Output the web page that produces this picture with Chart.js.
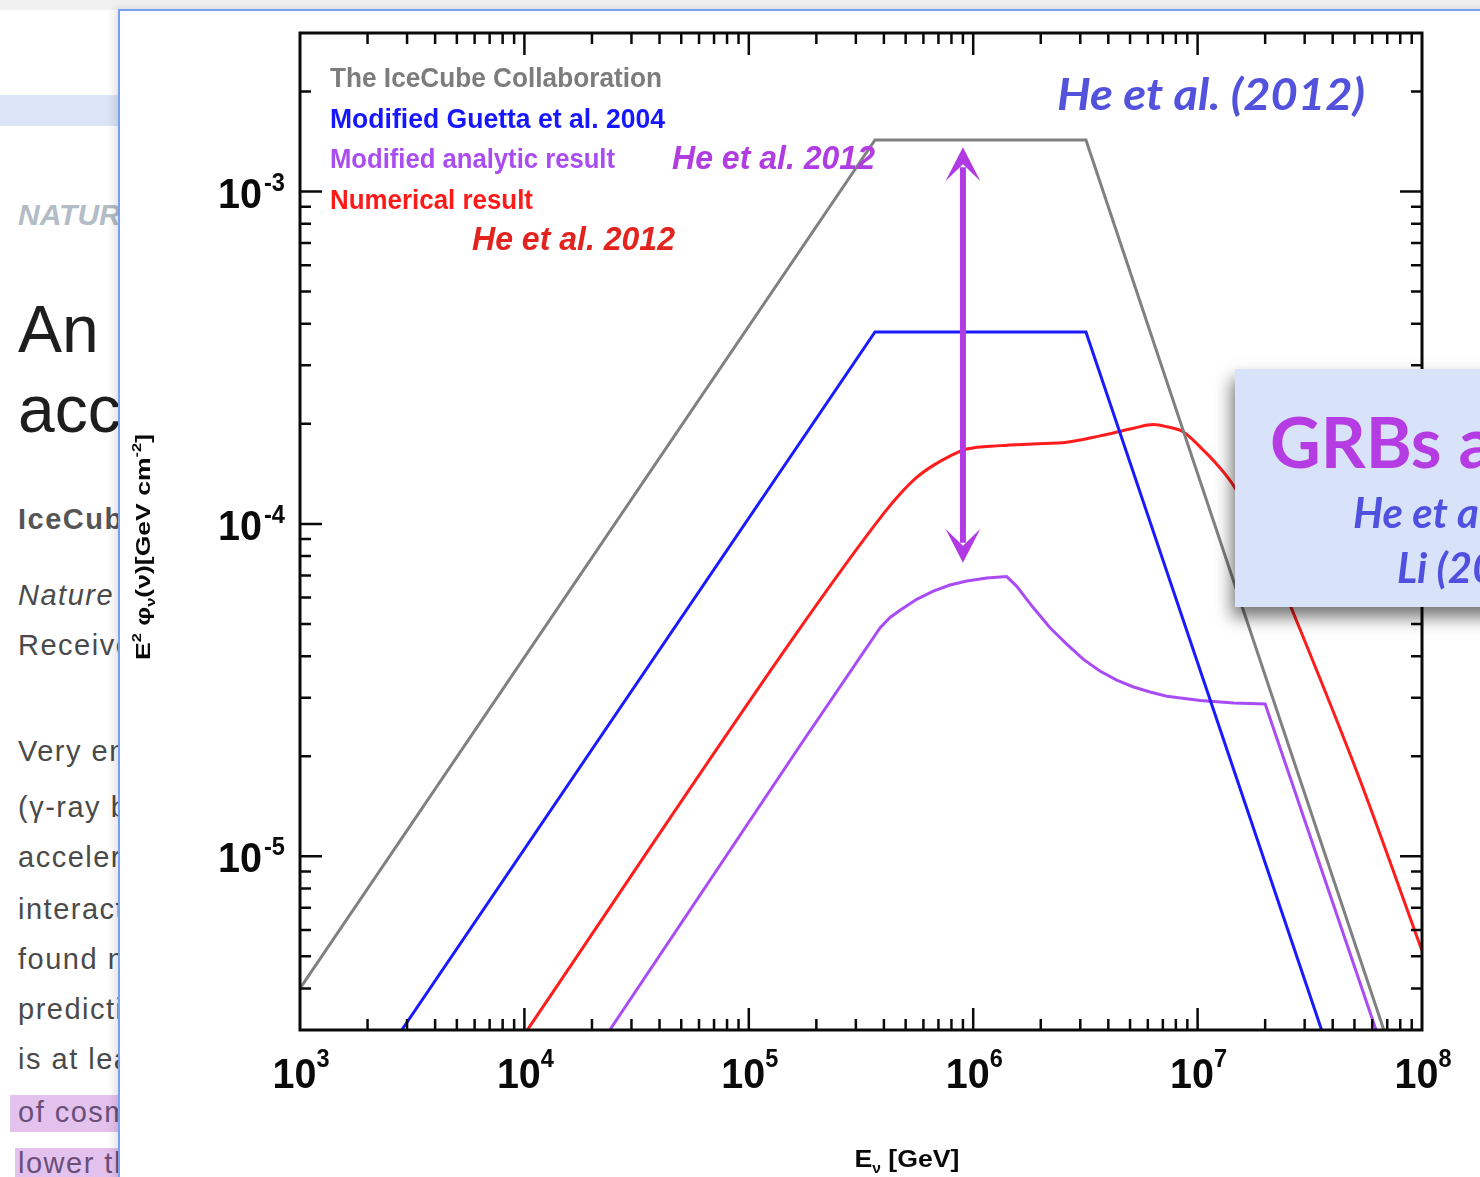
<!DOCTYPE html>
<html>
<head>
<meta charset="utf-8">
<script src="https://cdn.jsdelivr.net/npm/chart.js@4.4.1/dist/chart.umd.min.js"></script>
<style>
  html, body { margin: 0; padding: 0; width: 1480px; height: 1177px; overflow: hidden; background: #fff;
    font-family: "Liberation Sans", Arial, sans-serif; }
  .abs { position: absolute; white-space: nowrap; line-height: 1; }
  #topstrip { left: 0; top: 0; width: 1480px; height: 10px; background: #f1f1f1; }
  #band { left: 0; top: 95px; width: 118px; height: 31px; background: #dbe5f7; }
  .pg { left: 18px; font-size: 29px; color: #4a4a4a; letter-spacing: 1.5px; }
  .hl { background: #e4c2ee; }
  #panel { left: 118px; top: 9px; width: 1400px; height: 1200px; background: #fff;
    border-left: 2px solid #78a0f0; border-top: 2px solid #78a0f0; box-shadow: -3px 0 9px rgba(0,0,0,0.13); }
  #chart { position: absolute; left: 0; top: 0; }
  #callout { left: 1235px; top: 369px; width: 300px; height: 238px; background: #d8e3fa;
    box-shadow: -3px 10px 16px rgba(0,0,0,0.55); overflow: hidden; }
  #callout div { position: absolute; white-space: nowrap; line-height: 1; font-family: Lato, "Open Sans", sans-serif; }
</style>
</head>
<body>
<!-- article page behind the slide -->
<div class="abs" id="topstrip"></div>
<div class="abs" id="band"></div>
<div class="abs" style="left:18px;top:200px;font-size:30px;font-weight:bold;font-style:italic;color:#b4bcc6;">NATURE</div>
<div class="abs" style="left:18px;top:296px;font-size:66px;color:#1e1e1e;">An astrophysical</div>
<div class="abs" style="left:18px;top:376px;font-size:66px;color:#1e1e1e;">accelerators</div>
<div class="abs pg" style="top:505px;font-weight:bold;color:#555;">IceCube Collaboration</div>
<div class="abs pg" style="top:581px;font-style:italic;">Nature</div>
<div class="abs pg" style="top:631px;">Received</div>
<div class="abs pg" style="top:737px;">Very energetic</div>
<div class="abs pg" style="top:793px;">(γ-ray bursts</div>
<div class="abs pg" style="top:843px;">accelerators</div>
<div class="abs pg" style="top:895px;">interactions</div>
<div class="abs pg" style="top:945px;">found no</div>
<div class="abs pg" style="top:995px;">predictions</div>
<div class="abs pg" style="top:1045px;">is at least</div>
<div class="abs hl" style="left:10px;top:1095px;width:110px;height:37px;"></div>
<div class="abs pg" style="top:1098px;color:#6a4f78;">of cosmic</div>
<div class="abs hl" style="left:15px;top:1148px;width:105px;height:40px;"></div>
<div class="abs pg" style="top:1149px;color:#6a4f78;">lower than</div>

<!-- slide panel -->
<div class="abs" id="panel"></div>
<canvas id="chart" width="1480" height="1177"></canvas>
<div class="abs" id="callout">
  <div style="left:35px;top:37px;font-size:70px;font-weight:bold;color:#b53be3;">GRBs are not dead</div>
  <div style="left:118px;top:122px;font-size:42px;font-weight:bold;font-style:italic;color:#5050e0;">He et al. (2012)</div>
  <div style="left:162px;top:177px;font-size:42px;font-weight:bold;font-style:italic;color:#5050e0;">Li (2012)</div>
</div>

<script>
// Neutrino fluence curves: energy in GeV, E^2 phi in GeV cm^-2
const ENERGY_ICECUBE = [1.0e3, 3.65e5, 3.18e6, 6.76e7];
const FLUX_ICECUBE   = [4.0e-6, 1.43e-3, 1.43e-3, 3.0e-6];

const ENERGY_GUETTA = [2.84e3, 3.65e5, 3.18e6, 3.57e7];
const FLUX_GUETTA   = [3.0e-6, 3.78e-4, 3.78e-4, 3.0e-6];

const ENERGY_NUMERICAL = [1.03e4, 1.69e5, 3.97e5, 4.72e5, 5.60e5, 6.64e5, 7.88e5, 9.36e5, 1.32e6, 1.85e6,
                          2.61e6, 3.67e6, 5.18e6, 6.35e6, 7.29e6, 8.65e6, 1.03e7, 1.22e7, 1.45e7, 1.96e7,
                          2.64e7, 5.2e7, 1.0e8];
const FLUX_NUMERICAL   = [3.0e-6, 4.85e-5, 1.07e-4, 1.23e-4, 1.38e-4, 1.50e-4, 1.60e-4, 1.68e-4, 1.72e-4, 1.74e-4,
                          1.76e-4, 1.84e-4, 1.94e-4, 1.99e-4, 1.96e-4, 1.89e-4, 1.70e-4, 1.51e-4, 1.30e-4, 8.9e-5,
                          5.5e-5, 1.75e-5, 5.2e-6];

const ENERGY_ANALYTIC = [2.40e4, 1.69e5, 3.85e5, 4.26e5, 4.72e5, 5.60e5, 6.64e5, 7.88e5, 9.36e5, 1.15e6,
                         1.41e6, 1.56e6, 1.85e6, 2.20e6, 2.61e6, 3.10e6, 3.67e6, 4.36e6, 5.18e6, 6.14e6,
                         7.29e6, 1.03e7, 1.45e7, 2.00e7, 6.24e7];
const FLUX_ANALYTIC   = [3.0e-6, 2.15e-5, 4.87e-5, 5.23e-5, 5.50e-5, 5.93e-5, 6.28e-5, 6.55e-5, 6.73e-5, 6.87e-5,
                         6.94e-5, 6.50e-5, 5.60e-5, 4.87e-5, 4.35e-5, 3.91e-5, 3.61e-5, 3.39e-5, 3.23e-5, 3.12e-5,
                         3.03e-5, 2.94e-5, 2.89e-5, 2.87e-5, 3.0e-6];

// Axis ranges and tick labels
const X_RANGE = [1e3, 1e8];
const Y_RANGE = [3e-6, 3e-3];
const X_DECADES = [1e3, 1e4, 1e5, 1e6, 1e7, 1e8];
const X_EXPONENTS = ['3', '4', '5', '6', '7', '8'];
const Y_DECADES = [1e-5, 1e-4, 1e-3];
const Y_EXPONENTS = ['-5', '-4', '-3'];
const X_MINOR_DECADES = [1e3, 1e4, 1e5, 1e6, 1e7];
const Y_MINOR_DECADES = [1e-6, 1e-5, 1e-4, 1e-3];
const MINOR_STEPS = [2, 3, 4, 5, 6, 7, 8, 9];

// Legend entries and annotations
const LEGEND_LABELS = ['The IceCube Collaboration', 'Modified Guetta et al. 2004', 'Modified analytic result', 'Numerical result'];
const LEGEND_COLORS = ['#7c7c7c', '#1616ff', '#a94cf2', '#ff1a1a'];
const ARROW_ENERGY = 9.0e5;
const ARROW_FLUX = [1.36e-3, 7.64e-5];

function pairs(xs, ys) { return xs.map((x, i) => ({ x: x, y: ys[i] })); }

function fitText(ctx, txt, x, y, width, align) {
  const w = ctx.measureText(txt).width;
  const s = width ? width / w : 1;
  ctx.save();
  ctx.translate(x, y);
  ctx.scale(s, 1);
  ctx.textAlign = 'left';
  const x0 = align === 'center' ? -w / 2 : (align === 'right' ? -w : 0);
  ctx.fillText(txt, x0, 0);
  ctx.restore();
}

// Draws a run of text pieces [text, font, baselineShift] with a common horizontal squeeze
function drawRun(ctx, pieces, x, y, targetWidth, align) {
  let total = 0;
  const widths = pieces.map(p => { ctx.font = p[1]; const w = ctx.measureText(p[0]).width; total += w; return w; });
  const s = targetWidth ? targetWidth / total : 1;
  ctx.save();
  ctx.translate(x, y);
  ctx.scale(s, 1);
  ctx.textAlign = 'left';
  ctx.textBaseline = 'alphabetic';
  let cx = align === 'center' ? -total / 2 : (align === 'right' ? -total : 0);
  pieces.forEach((p, i) => { ctx.font = p[1]; ctx.fillText(p[0], cx, p[2]); cx += widths[i]; });
  ctx.restore();
}

const figurePlugin = {
  id: 'figure',
  afterDatasetsDraw(chart) {
    const ctx = chart.ctx;
    const a = chart.chartArea;
    const xs = chart.scales.x, ys = chart.scales.y;
    ctx.save();

    // frame
    ctx.strokeStyle = '#0a0a0a';
    ctx.lineWidth = 3;
    ctx.strokeRect(a.left, a.top, a.right - a.left, a.bottom - a.top);

    // ticks on all four sides, pointing inward
    ctx.lineWidth = 2.5;
    ctx.beginPath();
    const xTick = (v, len) => {
      const px = xs.getPixelForValue(v);
      ctx.moveTo(px, a.bottom); ctx.lineTo(px, a.bottom - len);
      ctx.moveTo(px, a.top); ctx.lineTo(px, a.top + len);
    };
    const yTick = (v, len) => {
      const py = ys.getPixelForValue(v);
      ctx.moveTo(a.left, py); ctx.lineTo(a.left + len, py);
      ctx.moveTo(a.right, py); ctx.lineTo(a.right - len, py);
    };
    X_MINOR_DECADES.forEach(d => MINOR_STEPS.forEach(m => xTick(d * m, 11)));
    X_DECADES.forEach(v => { if (v > X_RANGE[0] && v < X_RANGE[1]) xTick(v, 22); });
    Y_MINOR_DECADES.forEach(d => MINOR_STEPS.forEach(m => {
      const v = d * m;
      if (v > Y_RANGE[0] * 1.001 && v < Y_RANGE[1] * 0.999) yTick(v, 11);
    }));
    Y_DECADES.forEach(v => yTick(v, 22));
    ctx.stroke();

    // tick labels: 10 with raised exponent
    ctx.fillStyle = '#0a0a0a';
    ctx.textBaseline = 'alphabetic';
    const big = 'bold 42px "Liberation Sans", Arial, sans-serif';
    const small = 'bold 25px "Liberation Sans", Arial, sans-serif';
    X_DECADES.forEach((v, i) => {
      const px = xs.getPixelForValue(v);
      drawRun(ctx, [['10', big, 0], [X_EXPONENTS[i], small, -21]], px + 1, a.bottom + 58, 57, 'center');
    });
    Y_DECADES.forEach((v, i) => {
      const py = ys.getPixelForValue(v);
      ctx.font = big;
      fitText(ctx, '10', a.left - 38, py + 16, 44, 'right');
      ctx.font = small;
      fitText(ctx, Y_EXPONENTS[i], a.left - 36, py - 1, 21, 'left');
    });

    // axis titles
    const tf = 'bold 24px "Liberation Sans", Arial, sans-serif';
    const ts = 'bold 14px "Liberation Sans", Arial, sans-serif';
    drawRun(ctx, [['E', tf, 0], ['ν', ts, 6], [' [GeV]', tf, 0]], 907, a.bottom + 137, 105, 'center');
    ctx.save();
    ctx.translate(150, 547);
    ctx.rotate(-Math.PI / 2);
    const yf = 'bold 21px "Liberation Sans", Arial, sans-serif';
    const yfs = 'bold 13px "Liberation Sans", Arial, sans-serif';
    drawRun(ctx, [['E', yf, 0], ['2', yfs, -9], [' φ', yf, 0], ['ν', yfs, 5], ['(ν)[GeV cm', yf, 0], ['-2', yfs, -9], [']', yf, 0]],
      0, 0, 226, 'center');
    ctx.restore();

    // legend text
    const legendWidths = [332, 335, 285, 203];
    ctx.font = 'bold 28px "Liberation Sans", Arial, sans-serif';
    LEGEND_LABELS.forEach((t, i) => {
      ctx.fillStyle = LEGEND_COLORS[i];
      fitText(ctx, t, a.left + 30, a.top + 54 + i * 40.5, legendWidths[i], 'left');
    });

    // reference labels
    ctx.font = 'italic bold 33px "Liberation Sans", Arial, sans-serif';
    ctx.fillStyle = '#b03ce2';
    fitText(ctx, 'He et al. 2012', 672, 169, 203, 'left');
    ctx.fillStyle = '#e3231e';
    fitText(ctx, 'He et al. 2012', 472, 250, 203, 'left');
    ctx.font = 'italic bold 43px Lato, "Open Sans", sans-serif';
    ctx.fillStyle = '#5252dc';
    fitText(ctx, 'He et al. (2012)', 1057, 110, 308, 'left');

    // double-headed arrow between the two peaks
    const ax = xs.getPixelForValue(ARROW_ENERGY);
    const yTop = ys.getPixelForValue(ARROW_FLUX[0]);
    const yBot = ys.getPixelForValue(ARROW_FLUX[1]);
    ctx.fillStyle = '#b23ae4';
    ctx.strokeStyle = '#b23ae4';
    ctx.lineWidth = 6;
    ctx.beginPath();
    ctx.moveTo(ax, yTop + 20);
    ctx.lineTo(ax, yBot - 20);
    ctx.stroke();
    const head = (tipY, dir) => {
      ctx.beginPath();
      ctx.moveTo(ax, tipY);
      ctx.lineTo(ax - 17.5, tipY - dir * 34);
      ctx.lineTo(ax, tipY - dir * 17);
      ctx.lineTo(ax + 17.5, tipY - dir * 34);
      ctx.closePath();
      ctx.fill();
    };
    head(yBot, 1);
    head(yTop, -1);

    ctx.restore();
  }
};

const lineStyle = { pointRadius: 0, borderWidth: 3, fill: false, tension: 0 };

new Chart(document.getElementById('chart'), {
  type: 'line',
  data: {
    datasets: [
      Object.assign({ label: LEGEND_LABELS[0], data: pairs(ENERGY_ICECUBE, FLUX_ICECUBE), borderColor: '#808080' }, lineStyle),
      Object.assign({ label: LEGEND_LABELS[1], data: pairs(ENERGY_GUETTA, FLUX_GUETTA), borderColor: '#1a1aff' }, lineStyle),
      Object.assign({ label: LEGEND_LABELS[3], data: pairs(ENERGY_NUMERICAL, FLUX_NUMERICAL), borderColor: '#ff1c1c' },
        lineStyle, { cubicInterpolationMode: 'monotone' }),
      Object.assign({ label: LEGEND_LABELS[2], data: pairs(ENERGY_ANALYTIC, FLUX_ANALYTIC), borderColor: '#a94cf6' }, lineStyle)
    ]
  },
  options: {
    responsive: false,
    animation: false,
    devicePixelRatio: 1,
    parsing: true,
    layout: { padding: { left: 300, top: 33, right: 58, bottom: 147 } },
    scales: {
      x: { type: 'logarithmic', min: X_RANGE[0], max: X_RANGE[1], display: false },
      y: { type: 'logarithmic', min: Y_RANGE[0], max: Y_RANGE[1], display: false }
    },
    plugins: { legend: { display: false }, tooltip: { enabled: false } }
  },
  plugins: [figurePlugin]
});
</script>
</body>
</html>
